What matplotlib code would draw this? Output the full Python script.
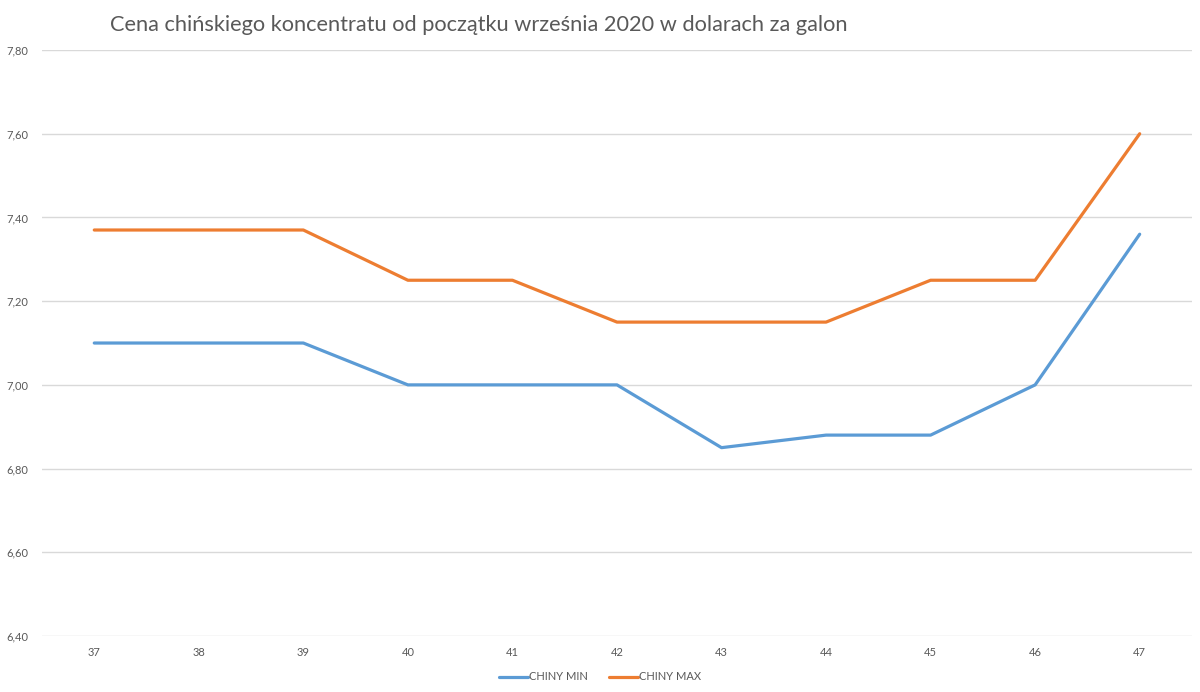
import matplotlib.pyplot as plt
from matplotlib.ticker import FuncFormatter

weeks = ["37", "38", "39", "40", "41", "42", "43", "44", "45", "46", "47"]
chiny_min = [7.10, 7.10, 7.10, 7.00, 7.00, 7.00, 6.85, 6.88, 6.88, 7.00, 7.36]
chiny_max = [7.37, 7.37, 7.37, 7.25, 7.25, 7.15, 7.15, 7.15, 7.25, 7.25, 7.60]

plt.rcParams['font.family'] = ['Lato', 'DejaVu Sans']

fig = plt.figure(figsize=(12, 6.92), dpi=100)
ax = fig.add_axes([0.035, 0.0809, 0.9583, 0.8468])

x = range(len(weeks))
ax.plot(x, chiny_min, color="#5B9BD5", lw=2.3, label="CHINY MIN", solid_capstyle="round")
ax.plot(x, chiny_max, color="#ED7D31", lw=2.3, label="CHINY MAX", solid_capstyle="round")

ax.set_xlim(-0.5, len(weeks) - 0.5)
ax.set_ylim(6.4, 7.8)
ax.set_yticks([6.4, 6.6, 6.8, 7.0, 7.2, 7.4, 7.6, 7.8])
ax.yaxis.set_major_formatter(FuncFormatter(lambda v, p: f"{v:.2f}".replace(".", ",")))
ax.set_xticks(list(x))
ax.set_xticklabels(weeks)

ax.grid(axis="y", color="#d9d9d9", lw=1)
ax.set_axisbelow(True)
for s in ax.spines.values():
    s.set_visible(False)
ax.tick_params(length=0, labelsize=8, colors="#595959")
ax.tick_params(axis="y", pad=10)
ax.tick_params(axis="x", pad=8)

fig.text(110 / 1200, 1 - 25 / 692, "Cena chińskiego koncentratu od początku września 2020 w dolarach za galon",
         fontsize=15.7, color="#595959", va="center", ha="left")

fig.legend(loc="center", bbox_to_anchor=(0.5, 1 - 677 / 692), ncol=2, frameon=False,
           fontsize=8, labelcolor="#595959", handlelength=2.6, handletextpad=0.1, columnspacing=1.9)

fig.savefig("out.png", dpi=100)
